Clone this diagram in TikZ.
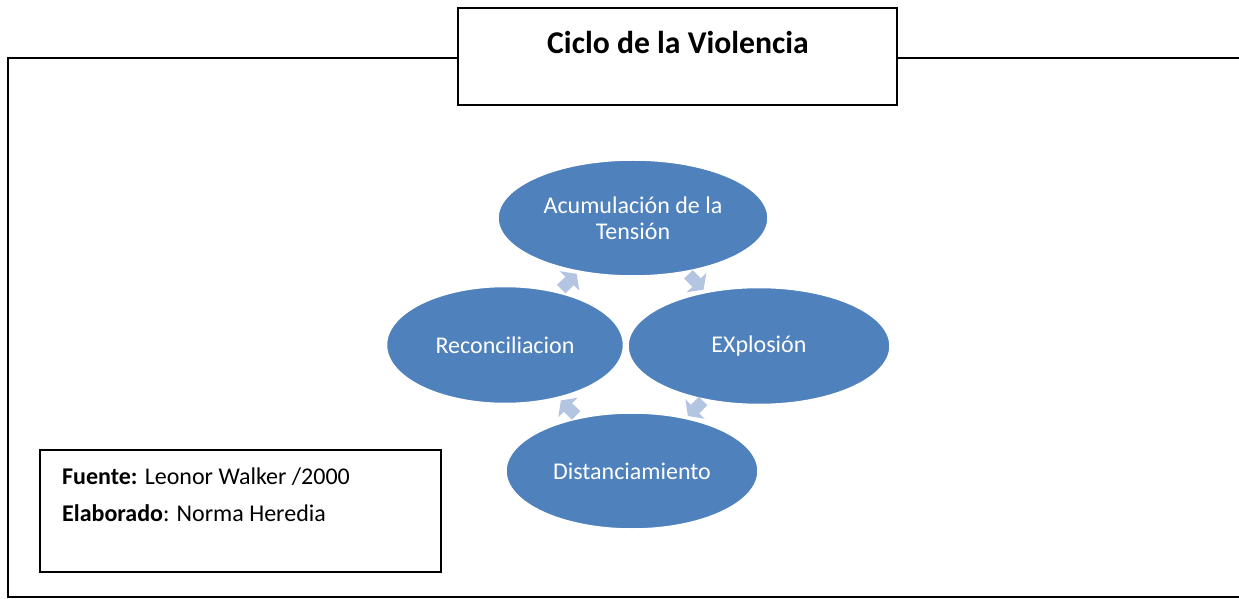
\documentclass[tikz,border=0pt]{standalone}
\usepackage{fontspec}
\setmainfont{Carlito}
\usepackage{xcolor}
\definecolor{cicloBlue}{RGB}{79, 129, 189}
\definecolor{flechaBlue}{RGB}{180, 197, 225}
\usepackage{tikz}
\usetikzlibrary{shapes.geometric, arrows.meta, positioning, calc}

\begin{document}
\begin{tikzpicture}[x=1bp, y=-1bp,
  fase/.style={ellipse, fill=cicloBlue, draw=white, line width=1.5bp,
               text=white, align=center, inner sep=0pt,
               font=\fontsize{24bp}{26bp}\selectfont},
  flecha/.style={draw=flechaBlue, line width=12bp,
                 -{Triangle[length=10bp, width=27bp]}},
  caja/.style={draw=black, line width=1.3bp, fill=white},
  marco/.style={draw=black, line width=1.3bp},
  nota/.style={anchor=west, inner sep=0pt, font=\fontsize{24bp}{26bp}\selectfont}]

  \useasboundingbox (0,0) rectangle (1239,599);

  % ---- Marco ----
  \draw[marco] (1239,58) -- (8,58) -- (8,597) -- (1239,597);

  % ---- Titulo ----
  \node[caja, minimum width=439bp, minimum height=97bp] (titulo) at (677.5,56.5) {};
  \node[font=\fontsize{31.7bp}{34bp}\selectfont\bfseries] (tituloTxt) at (678,42) {Ciclo de la Violencia};

  % ---- Fases del ciclo ----
  \node[fase, minimum width=270bp, minimum height=116bp] (acum)   at (633,218) {Acumulación de la\\Tensión};
  \node[fase, minimum width=237bp, minimum height=117bp] (recon)  at (505,345) {Reconciliacion};
  \node[fase, minimum width=262bp, minimum height=117bp] (explo)  at (759,346) {EXplosión};
  \node[fase, minimum width=252bp, minimum height=116bp] (dist)   at (632,471) {Distanciamiento};

  % ---- Flechas ----
  \draw[flecha] ($(recon)!0.44!(acum)$) -- ($(recon)!0.56!(acum)$);
  \draw[flecha] ($(acum)!0.44!(explo)$) -- ($(acum)!0.56!(explo)$);
  \draw[flecha] ($(explo)!0.44!(dist)$) -- ($(explo)!0.56!(dist)$);
  \draw[flecha] ($(dist)!0.44!(recon)$) -- ($(dist)!0.56!(recon)$);

  % ---- Fuente ----
  \node[caja, minimum width=401bp, minimum height=122bp] (fuente) at (240.5,511) {};
  \node[nota] (fuenteTxt) at (62,477) {\textbf{Fuente:} Leonor Walker /2000};
  \node[nota] (elabTxt)   at (62,513) {\textbf{Elaborado}: Norma Heredia};

\end{tikzpicture}
\end{document}
